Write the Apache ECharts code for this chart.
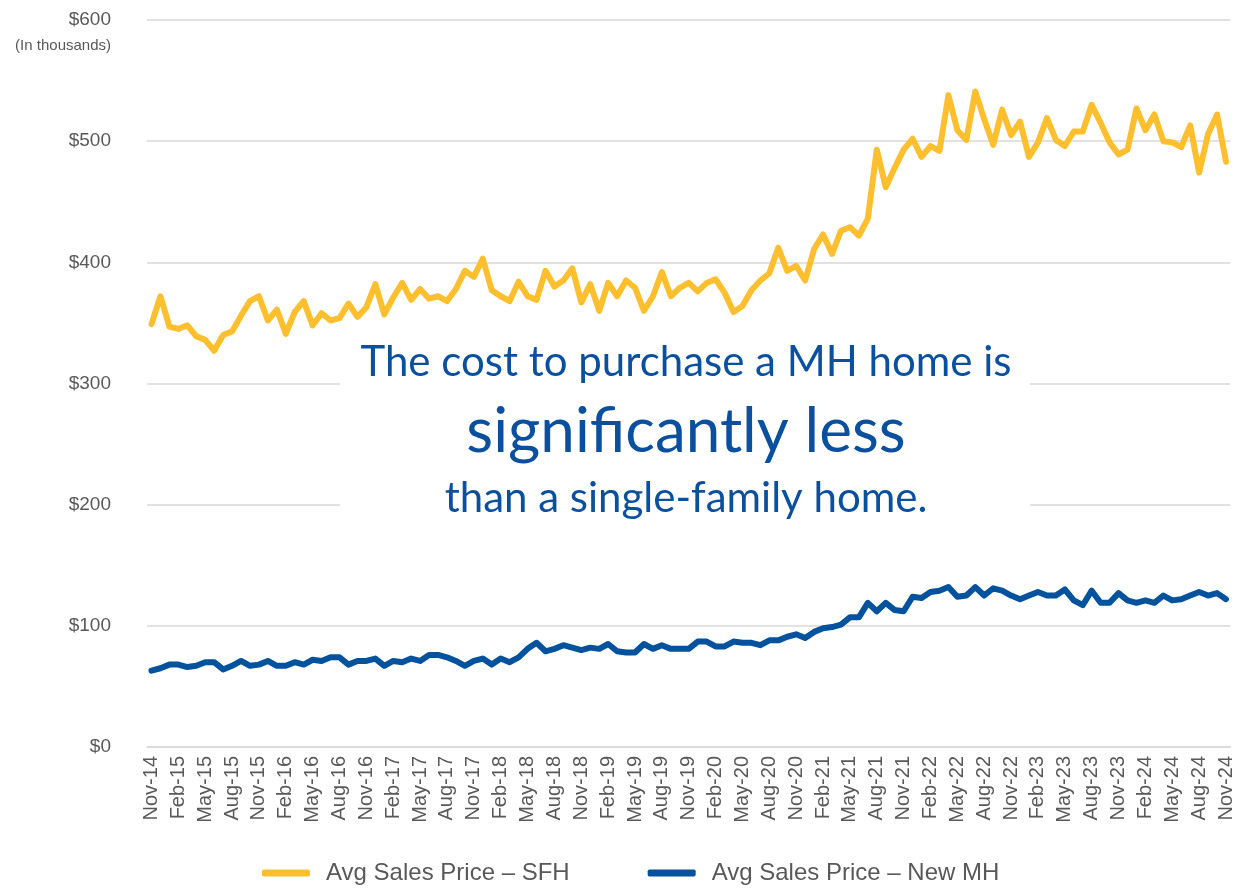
<!DOCTYPE html>
<html>
<head>
<meta charset="utf-8">
<script src="https://cdn.jsdelivr.net/npm/echarts@6/dist/echarts.min.js"></script>
<style>
  html, body { margin: 0; padding: 0; background: #fff; }
  #chart { width: 1236px; height: 888px; }
</style>
</head>
<body>
<div id="chart"></div>
<script>
// monthly, Nov-14 .. Nov-24 (in thousands)
var monthNames = ['Jan', 'Feb', 'Mar', 'Apr', 'May', 'Jun', 'Jul', 'Aug', 'Sep', 'Oct', 'Nov', 'Dec'];
var startMonth = 10, startYear = 14, monthCount = 121;

var sfhPrice = [
    349, 372, 347, 345, 348, 339, 336, 327, 340, 343, 356, 368, 372, 352, 361, 341, 359, 368, 348, 358,
    352, 354, 366, 355, 363, 382, 357, 371, 383, 369, 378, 370, 372, 368, 378, 393, 388, 403, 377, 372,
    368, 384, 372, 369, 393, 380, 385, 395, 367, 382, 360, 383, 372, 385, 379, 360, 372, 392, 372, 379,
    383, 376, 383, 386, 375, 359, 364, 377, 385, 391, 412, 393, 397, 385, 411, 423, 407, 426, 429, 422,
    436, 493, 462, 478, 493, 502, 487, 496, 492, 538, 509, 501, 541, 518, 497, 526, 505, 516, 487, 499,
    519, 501, 496, 508, 508, 530, 515, 499, 489, 493, 527, 509, 522, 500, 499, 495, 513, 474, 506, 522,
    483
];
var mhPrice = [
    63, 65, 68, 68, 66, 67, 70, 70, 64, 67, 71, 67, 68, 71, 67, 67, 70, 68, 72, 71,
    74, 74, 68, 71, 71, 73, 67, 71, 70, 73, 71, 76, 76, 74, 71, 67, 71, 73, 68, 73,
    70, 74, 81, 86, 79, 81, 84, 82, 80, 82, 81, 85, 79, 78, 78, 85, 81, 84, 81, 81,
    81, 87, 87, 83, 83, 87, 86, 86, 84, 88, 88, 91, 93, 90, 95, 98, 99, 101, 107, 107,
    119, 112, 119, 113, 112, 124, 123, 128, 129, 132, 124, 125, 132, 125, 131, 129, 125, 122, 125, 128,
    125, 125, 130, 121, 117, 129, 119, 119, 127, 121, 119, 121, 119, 125, 121, 122, 125, 128, 125, 127,
    122
];
var seriesNames = ['Avg Sales Price \u2013 SFH', 'Avg Sales Price \u2013 New MH'];
var messageLines = ['The cost to purchase a MH home is', 'significantly less', 'than a single-family home.'];

var months = [];
for (var i = 0; i < monthCount; i++) {
    var m = (startMonth + i) % 12;
    var y = startYear + Math.floor((startMonth + i) / 12);
    months.push(monthNames[m] + '-' + y);
}

var myChart = echarts.init(document.getElementById('chart'));
var axisFont = 'Liberation Sans, Arial, sans-serif';
var msgFont = 'Lato, "Open Sans", sans-serif';
var blue = '#0a509e';

var option = {
    animation: false,
    color: ['#fdbf2d', '#02529e'],
    grid: { left: 147, right: 4, top: 20, bottom: 141 },
    legend: {
        data: seriesNames,
        bottom: -2,
        left: 257,
        icon: 'roundRect',
        itemWidth: 48,
        itemHeight: 7,
        itemGap: 78,
        textStyle: {
            color: '#595959',
            fontSize: 24,
            fontFamily: axisFont,
            padding: [0, 0, 0, 11]
        }
    },
    xAxis: {
        type: 'category',
        data: months,
        boundaryGap: true,
        axisLine: { lineStyle: { color: '#d9d9d9', width: 1.5 } },
        axisTick: { interval: 2, length: 6, lineStyle: { color: '#d9d9d9', width: 1.5 } },
        axisLabel: {
            interval: 2,
            rotate: 90,
            margin: 9,
            color: '#595959',
            fontSize: 20,
            fontFamily: axisFont
        }
    },
    yAxis: {
        type: 'value',
        min: 0,
        max: 600,
        interval: 100,
        axisLine: { show: false },
        axisTick: { show: false },
        splitLine: { lineStyle: { color: '#d9d9d9', width: 1.5 } },
        axisLabel: {
            margin: 36,
            color: '#595959',
            fontSize: 19,
            fontFamily: axisFont,
            formatter: function (v) { return '$' + v; }
        }
    },
    graphic: [
        {
            type: 'text',
            right: 1236 - 111,
            top: 38,
            style: { text: '(In thousands)', fill: '#595959', font: '15px ' + axisFont }
        },
        {
            type: 'rect',
            z: 1,
            shape: { x: 340, y: 328, width: 690, height: 192 },
            style: { fill: '#ffffff' }
        },
        {
            type: 'text', z: 1, x: 686, y: 362,
            style: { text: messageLines[0], fill: blue, font: '42px ' + msgFont, align: 'center', verticalAlign: 'middle' }
        },
        {
            type: 'text', z: 1, x: 686, y: 432,
            style: { text: messageLines[1], fill: blue, font: '62px ' + msgFont, align: 'center', verticalAlign: 'middle' }
        },
        {
            type: 'text', z: 1, x: 686, y: 498,
            style: { text: messageLines[2], fill: blue, font: '42px ' + msgFont, align: 'center', verticalAlign: 'middle' }
        }
    ],
    series: [
        {
            name: seriesNames[0],
            type: 'line',
            data: sfhPrice,
            symbol: 'none',
            z: 3,
            lineStyle: { width: 6, join: 'round', cap: 'round' }
        },
        {
            name: seriesNames[1],
            type: 'line',
            data: mhPrice,
            symbol: 'none',
            z: 3,
            lineStyle: { width: 6, join: 'round', cap: 'round' }
        }
    ]
};
myChart.setOption(option);
</script>
</body>
</html>
